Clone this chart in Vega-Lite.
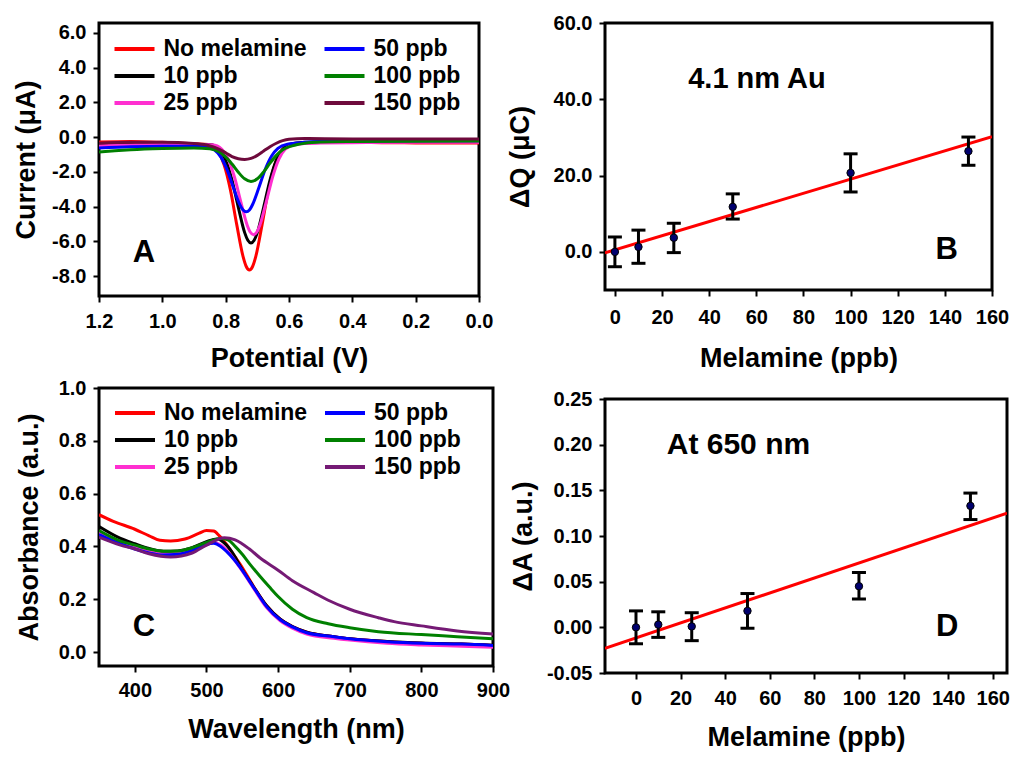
{
  "$schema": "https://vega.github.io/schema/vega-lite/v6.json",
  "background": "white",
  "padding": {"left": 10, "top": 11, "right": 0, "bottom": 0},
  "config": {
    "font": "Liberation Sans",
    "view": {"stroke": "black", "strokeWidth": 3},
    "axis": {"domain": false, "grid": false, "ticks": true, "tickColor": "black", "tickWidth": 2, "tickSize": 6, "tickCount": 20,
      "labelFont": "Liberation Sans", "labelFontSize": 20, "labelFontWeight": "bold", "labelColor": "black", "labelOverlap": false, "labelFlush": false,
      "titleFont": "Liberation Sans", "titleFontSize": 27, "titleFontWeight": "bold", "titleColor": "black"},
    "axisX": {"labelPadding": 8, "titlePadding": 14},
    "axisY": {"labelPadding": 7, "titlePadding": 12},
    "text": {"font": "Liberation Sans", "fontWeight": "bold", "color": "black"}
  },
  "spacing": -7,
  "resolve": {"scale": {"color": "independent"}, "legend": {"color": "independent"}},
  "hconcat": [
    {
      "spacing": 3,
      "resolve": {"scale": {"color": "independent"}, "legend": {"color": "independent"}},
      "vconcat": [
        {
          "width": 380,
          "height": 273,
          "layer": [
            {
              "data": {"values": [
{"series":"No melamine","potential":1.2,"current":-0.28},{"series":"No melamine","potential":1.1,"current":-0.25},{"series":"No melamine","potential":1.0,"current":-0.3},{"series":"No melamine","potential":0.9,"current":-0.38},{"series":"No melamine","potential":0.855,"current":-0.42},{"series":"No melamine","potential":0.825,"current":-0.81},{"series":"No melamine","potential":0.805,"current":-1.59},{"series":"No melamine","potential":0.785,"current":-3.04},{"series":"No melamine","potential":0.765,"current":-5.04},{"series":"No melamine","potential":0.745,"current":-6.88},{"series":"No melamine","potential":0.735,"current":-7.45},{"series":"No melamine","potential":0.725,"current":-7.65},{"series":"No melamine","potential":0.715,"current":-7.45},{"series":"No melamine","potential":0.705,"current":-6.88},{"series":"No melamine","potential":0.685,"current":-5.04},{"series":"No melamine","potential":0.665,"current":-3.04},{"series":"No melamine","potential":0.645,"current":-1.59},{"series":"No melamine","potential":0.625,"current":-0.81},{"series":"No melamine","potential":0.595,"current":-0.42},{"series":"No melamine","potential":0.55,"current":-0.32},{"series":"No melamine","potential":0.5,"current":-0.3},{"series":"No melamine","potential":0.4,"current":-0.3},{"series":"No melamine","potential":0.3,"current":-0.32},{"series":"No melamine","potential":0.2,"current":-0.33},{"series":"No melamine","potential":0.1,"current":-0.33},{"series":"No melamine","potential":0.0,"current":-0.33},
{"series":"10 ppb","potential":1.2,"current":-0.4},{"series":"10 ppb","potential":1.1,"current":-0.38},{"series":"10 ppb","potential":1.0,"current":-0.38},{"series":"10 ppb","potential":0.9,"current":-0.42},{"series":"10 ppb","potential":0.85,"current":-0.42},{"series":"10 ppb","potential":0.82,"current":-0.71},{"series":"10 ppb","potential":0.8,"current":-1.33},{"series":"10 ppb","potential":0.78,"current":-2.47},{"series":"10 ppb","potential":0.76,"current":-4.04},{"series":"10 ppb","potential":0.74,"current":-5.5},{"series":"10 ppb","potential":0.73,"current":-5.94},{"series":"10 ppb","potential":0.72,"current":-6.1},{"series":"10 ppb","potential":0.71,"current":-5.94},{"series":"10 ppb","potential":0.7,"current":-5.5},{"series":"10 ppb","potential":0.68,"current":-4.04},{"series":"10 ppb","potential":0.66,"current":-2.47},{"series":"10 ppb","potential":0.64,"current":-1.33},{"series":"10 ppb","potential":0.62,"current":-0.71},{"series":"10 ppb","potential":0.59,"current":-0.38},{"series":"10 ppb","potential":0.55,"current":-0.3},{"series":"10 ppb","potential":0.5,"current":-0.26},{"series":"10 ppb","potential":0.4,"current":-0.24},{"series":"10 ppb","potential":0.2,"current":-0.22},{"series":"10 ppb","potential":0.0,"current":-0.22},
{"series":"25 ppb","potential":1.2,"current":-0.5},{"series":"25 ppb","potential":1.1,"current":-0.45},{"series":"25 ppb","potential":1.0,"current":-0.42},{"series":"25 ppb","potential":0.9,"current":-0.42},{"series":"25 ppb","potential":0.842,"current":-0.44},{"series":"25 ppb","potential":0.812,"current":-0.7},{"series":"25 ppb","potential":0.792,"current":-1.26},{"series":"25 ppb","potential":0.772,"current":-2.31},{"series":"25 ppb","potential":0.752,"current":-3.74},{"series":"25 ppb","potential":0.732,"current":-5.07},{"series":"25 ppb","potential":0.722,"current":-5.48},{"series":"25 ppb","potential":0.712,"current":-5.62},{"series":"25 ppb","potential":0.702,"current":-5.48},{"series":"25 ppb","potential":0.692,"current":-5.07},{"series":"25 ppb","potential":0.672,"current":-3.74},{"series":"25 ppb","potential":0.652,"current":-2.31},{"series":"25 ppb","potential":0.632,"current":-1.26},{"series":"25 ppb","potential":0.612,"current":-0.7},{"series":"25 ppb","potential":0.582,"current":-0.42},{"series":"25 ppb","potential":0.55,"current":-0.36},{"series":"25 ppb","potential":0.5,"current":-0.34},{"series":"25 ppb","potential":0.4,"current":-0.32},{"series":"25 ppb","potential":0.2,"current":-0.3},{"series":"25 ppb","potential":0.0,"current":-0.3},
{"series":"50 ppb","potential":1.2,"current":-0.62},{"series":"50 ppb","potential":1.1,"current":-0.55},{"series":"50 ppb","potential":1.0,"current":-0.52},{"series":"50 ppb","potential":0.9,"current":-0.52},{"series":"50 ppb","potential":0.865,"current":-0.54},{"series":"50 ppb","potential":0.835,"current":-0.74},{"series":"50 ppb","potential":0.815,"current":-1.15},{"series":"50 ppb","potential":0.795,"current":-1.9},{"series":"50 ppb","potential":0.775,"current":-2.94},{"series":"50 ppb","potential":0.755,"current":-3.9},{"series":"50 ppb","potential":0.745,"current":-4.2},{"series":"50 ppb","potential":0.735,"current":-4.3},{"series":"50 ppb","potential":0.725,"current":-4.2},{"series":"50 ppb","potential":0.715,"current":-3.88},{"series":"50 ppb","potential":0.695,"current":-2.9},{"series":"50 ppb","potential":0.675,"current":-1.85},{"series":"50 ppb","potential":0.655,"current":-1.08},{"series":"50 ppb","potential":0.635,"current":-0.65},{"series":"50 ppb","potential":0.605,"current":-0.4},{"series":"50 ppb","potential":0.55,"current":-0.3},{"series":"50 ppb","potential":0.5,"current":-0.25},{"series":"50 ppb","potential":0.4,"current":-0.22},{"series":"50 ppb","potential":0.2,"current":-0.2},{"series":"50 ppb","potential":0.0,"current":-0.2},
{"series":"100 ppb","potential":1.2,"current":-0.85},{"series":"100 ppb","potential":1.15,"current":-0.78},{"series":"100 ppb","potential":1.1,"current":-0.72},{"series":"100 ppb","potential":1.0,"current":-0.65},{"series":"100 ppb","potential":0.9,"current":-0.62},{"series":"100 ppb","potential":0.85,"current":-0.67},{"series":"100 ppb","potential":0.82,"current":-0.86},{"series":"100 ppb","potential":0.8,"current":-1.14},{"series":"100 ppb","potential":0.78,"current":-1.55},{"series":"100 ppb","potential":0.76,"current":-2.02},{"series":"100 ppb","potential":0.74,"current":-2.4},{"series":"100 ppb","potential":0.72,"current":-2.55},{"series":"100 ppb","potential":0.7,"current":-2.4},{"series":"100 ppb","potential":0.68,"current":-2.0},{"series":"100 ppb","potential":0.66,"current":-1.5},{"series":"100 ppb","potential":0.64,"current":-1.05},{"series":"100 ppb","potential":0.62,"current":-0.72},{"series":"100 ppb","potential":0.59,"current":-0.5},{"series":"100 ppb","potential":0.55,"current":-0.35},{"series":"100 ppb","potential":0.5,"current":-0.28},{"series":"100 ppb","potential":0.4,"current":-0.25},{"series":"100 ppb","potential":0.2,"current":-0.23},{"series":"100 ppb","potential":0.0,"current":-0.22},
{"series":"150 ppb","potential":1.2,"current":-0.35},{"series":"150 ppb","potential":1.1,"current":-0.3},{"series":"150 ppb","potential":1.0,"current":-0.3},{"series":"150 ppb","potential":0.9,"current":-0.36},{"series":"150 ppb","potential":0.86,"current":-0.45},{"series":"150 ppb","potential":0.82,"current":-0.7},{"series":"150 ppb","potential":0.8,"current":-0.9},{"series":"150 ppb","potential":0.78,"current":-1.12},{"series":"150 ppb","potential":0.76,"current":-1.24},{"series":"150 ppb","potential":0.74,"current":-1.28},{"series":"150 ppb","potential":0.72,"current":-1.22},{"series":"150 ppb","potential":0.7,"current":-1.05},{"series":"150 ppb","potential":0.68,"current":-0.8},{"series":"150 ppb","potential":0.66,"current":-0.55},{"series":"150 ppb","potential":0.64,"current":-0.35},{"series":"150 ppb","potential":0.62,"current":-0.2},{"series":"150 ppb","potential":0.6,"current":-0.12},{"series":"150 ppb","potential":0.55,"current":-0.08},{"series":"150 ppb","potential":0.4,"current":-0.1},{"series":"150 ppb","potential":0.2,"current":-0.1},{"series":"150 ppb","potential":0.0,"current":-0.1}
              ]},
              "mark": {"type": "line", "strokeWidth": 3, "interpolate": "monotone", "clip": true},
              "encoding": {
                "x": {"field": "potential", "type": "quantitative", "title": "Potential (V)",
                  "scale": {"domain": [0, 1.2], "reverse": true, "nice": false, "zero": false},
                  "axis": {"values": [0, 0.2, 0.4, 0.6, 0.8, 1.0, 1.2], "format": ".1f", "tickCount": 20, "labelPadding": 9, "titlePadding": 14}},
                "y": {"field": "current", "type": "quantitative", "title": "Current (μA)",
                  "scale": {"domain": [-9.15, 6.576], "nice": false, "zero": false},
                  "axis": {"values": [-8, -6, -4, -2, 0, 2, 4, 6], "format": ".1f", "tickCount": 20, "labelOverlap": false, "labelExpr": "replace(datum.label, '\u2212', '-')", "labelPadding": 7, "titlePadding": 11.5}},
                "color": {"field": "series", "type": "nominal",
                  "scale": {"domain": ["No melamine", "10 ppb", "25 ppb", "50 ppb", "100 ppb", "150 ppb"],
                            "range": ["#FF0000", "#000000", "#FF2FD0", "#0000FF", "#008000", "#6E0A3C"]},
                  "legend": {"orient": "none", "legendX": 23.5, "legendY": 14, "columns": 2, "title": null, "padding": 0,
                    "labelFont": "Liberation Sans", "labelFontSize": 23, "labelFontWeight": "bold", "labelColor": "black", "labelLimit": 400,
                    "symbolType": "M-2,0H2", "symbolSize": 400, "symbolStrokeWidth": 4, "labelOffset": 17, "columnPadding": 9, "rowPadding": 3}}
              }
            },
            {
              "data": {"values": [{"note": "A"}]},
              "mark": {"type": "text", "fontSize": 31, "fontWeight": "bold", "align": "center", "baseline": "middle"},
              "encoding": {"text": {"field": "note"}, "x": {"datum": 1.058}, "y": {"datum": -6.66}}
            }
          ]
        },
        {
          "width": 394,
          "height": 278,
          "layer": [
            {
              "data": {"values": [
{"series":"No melamine","wavelength":350,"absorbance":0.52},{"series":"No melamine","wavelength":370,"absorbance":0.495},{"series":"No melamine","wavelength":400,"absorbance":0.465},{"series":"No melamine","wavelength":420,"absorbance":0.44},{"series":"No melamine","wavelength":435,"absorbance":0.423},{"series":"No melamine","wavelength":450,"absorbance":0.42},{"series":"No melamine","wavelength":470,"absorbance":0.428},{"series":"No melamine","wavelength":490,"absorbance":0.45},{"series":"No melamine","wavelength":500,"absorbance":0.46},{"series":"No melamine","wavelength":510,"absorbance":0.458},{"series":"No melamine","wavelength":518,"absorbance":0.44},{"series":"No melamine","wavelength":530,"absorbance":0.4},{"series":"No melamine","wavelength":540,"absorbance":0.36},{"series":"No melamine","wavelength":546,"absorbance":0.337},{"series":"No melamine","wavelength":565,"absorbance":0.252},{"series":"No melamine","wavelength":584,"absorbance":0.175},{"series":"No melamine","wavelength":603,"absorbance":0.124},{"series":"No melamine","wavelength":620,"absorbance":0.096},{"series":"No melamine","wavelength":640,"absorbance":0.075},{"series":"No melamine","wavelength":678,"absorbance":0.058},{"series":"No melamine","wavelength":700,"absorbance":0.05},{"series":"No melamine","wavelength":752,"absorbance":0.04},{"series":"No melamine","wavelength":800,"absorbance":0.033},{"series":"No melamine","wavelength":856,"absorbance":0.03},{"series":"No melamine","wavelength":900,"absorbance":0.025},
{"series":"10 ppb","wavelength":350,"absorbance":0.475},{"series":"10 ppb","wavelength":380,"absorbance":0.43},{"series":"10 ppb","wavelength":400,"absorbance":0.41},{"series":"10 ppb","wavelength":420,"absorbance":0.392},{"series":"10 ppb","wavelength":440,"absorbance":0.382},{"series":"10 ppb","wavelength":460,"absorbance":0.383},{"series":"10 ppb","wavelength":480,"absorbance":0.395},{"series":"10 ppb","wavelength":500,"absorbance":0.418},{"series":"10 ppb","wavelength":515,"absorbance":0.428},{"series":"10 ppb","wavelength":528,"absorbance":0.405},{"series":"10 ppb","wavelength":540,"absorbance":0.36},{"series":"10 ppb","wavelength":546,"absorbance":0.33},{"series":"10 ppb","wavelength":565,"absorbance":0.25},{"series":"10 ppb","wavelength":584,"absorbance":0.175},{"series":"10 ppb","wavelength":603,"absorbance":0.124},{"series":"10 ppb","wavelength":620,"absorbance":0.096},{"series":"10 ppb","wavelength":640,"absorbance":0.075},{"series":"10 ppb","wavelength":678,"absorbance":0.058},{"series":"10 ppb","wavelength":700,"absorbance":0.05},{"series":"10 ppb","wavelength":752,"absorbance":0.04},{"series":"10 ppb","wavelength":800,"absorbance":0.034},{"series":"10 ppb","wavelength":856,"absorbance":0.03},{"series":"10 ppb","wavelength":900,"absorbance":0.026},
{"series":"25 ppb","wavelength":350,"absorbance":0.455},{"series":"25 ppb","wavelength":380,"absorbance":0.415},{"series":"25 ppb","wavelength":400,"absorbance":0.395},{"series":"25 ppb","wavelength":420,"absorbance":0.38},{"series":"25 ppb","wavelength":440,"absorbance":0.37},{"series":"25 ppb","wavelength":460,"absorbance":0.372},{"series":"25 ppb","wavelength":480,"absorbance":0.385},{"series":"25 ppb","wavelength":500,"absorbance":0.405},{"series":"25 ppb","wavelength":510,"absorbance":0.415},{"series":"25 ppb","wavelength":520,"absorbance":0.405},{"series":"25 ppb","wavelength":530,"absorbance":0.38},{"series":"25 ppb","wavelength":546,"absorbance":0.322},{"series":"25 ppb","wavelength":565,"absorbance":0.245},{"series":"25 ppb","wavelength":584,"absorbance":0.168},{"series":"25 ppb","wavelength":603,"absorbance":0.118},{"series":"25 ppb","wavelength":620,"absorbance":0.09},{"series":"25 ppb","wavelength":640,"absorbance":0.068},{"series":"25 ppb","wavelength":678,"absorbance":0.052},{"series":"25 ppb","wavelength":700,"absorbance":0.045},{"series":"25 ppb","wavelength":752,"absorbance":0.033},{"series":"25 ppb","wavelength":800,"absorbance":0.027},{"series":"25 ppb","wavelength":856,"absorbance":0.022},{"series":"25 ppb","wavelength":900,"absorbance":0.018},
{"series":"50 ppb","wavelength":350,"absorbance":0.445},{"series":"50 ppb","wavelength":380,"absorbance":0.41},{"series":"50 ppb","wavelength":400,"absorbance":0.39},{"series":"50 ppb","wavelength":420,"absorbance":0.375},{"series":"50 ppb","wavelength":440,"absorbance":0.367},{"series":"50 ppb","wavelength":460,"absorbance":0.37},{"series":"50 ppb","wavelength":480,"absorbance":0.385},{"series":"50 ppb","wavelength":500,"absorbance":0.408},{"series":"50 ppb","wavelength":510,"absorbance":0.412},{"series":"50 ppb","wavelength":520,"absorbance":0.4},{"series":"50 ppb","wavelength":528,"absorbance":0.381},{"series":"50 ppb","wavelength":540,"absorbance":0.345},{"series":"50 ppb","wavelength":546,"absorbance":0.324},{"series":"50 ppb","wavelength":565,"absorbance":0.248},{"series":"50 ppb","wavelength":584,"absorbance":0.172},{"series":"50 ppb","wavelength":603,"absorbance":0.122},{"series":"50 ppb","wavelength":620,"absorbance":0.095},{"series":"50 ppb","wavelength":640,"absorbance":0.073},{"series":"50 ppb","wavelength":678,"absorbance":0.058},{"series":"50 ppb","wavelength":700,"absorbance":0.05},{"series":"50 ppb","wavelength":752,"absorbance":0.039},{"series":"50 ppb","wavelength":800,"absorbance":0.033},{"series":"50 ppb","wavelength":856,"absorbance":0.03},{"series":"50 ppb","wavelength":900,"absorbance":0.025},
{"series":"100 ppb","wavelength":350,"absorbance":0.46},{"series":"100 ppb","wavelength":380,"absorbance":0.42},{"series":"100 ppb","wavelength":400,"absorbance":0.405},{"series":"100 ppb","wavelength":420,"absorbance":0.39},{"series":"100 ppb","wavelength":440,"absorbance":0.382},{"series":"100 ppb","wavelength":460,"absorbance":0.383},{"series":"100 ppb","wavelength":480,"absorbance":0.395},{"series":"100 ppb","wavelength":500,"absorbance":0.415},{"series":"100 ppb","wavelength":520,"absorbance":0.43},{"series":"100 ppb","wavelength":530,"absorbance":0.425},{"series":"100 ppb","wavelength":540,"absorbance":0.4},{"series":"100 ppb","wavelength":550,"absorbance":0.37},{"series":"100 ppb","wavelength":560,"absorbance":0.335},{"series":"100 ppb","wavelength":575,"absorbance":0.286},{"series":"100 ppb","wavelength":590,"absorbance":0.24},{"series":"100 ppb","wavelength":600,"absorbance":0.21},{"series":"100 ppb","wavelength":620,"absorbance":0.162},{"series":"100 ppb","wavelength":640,"absorbance":0.13},{"series":"100 ppb","wavelength":670,"absorbance":0.107},{"series":"100 ppb","wavelength":700,"absorbance":0.092},{"series":"100 ppb","wavelength":740,"absorbance":0.077},{"series":"100 ppb","wavelength":800,"absorbance":0.066},{"series":"100 ppb","wavelength":850,"absorbance":0.058},{"series":"100 ppb","wavelength":900,"absorbance":0.05},
{"series":"150 ppb","wavelength":350,"absorbance":0.435},{"series":"150 ppb","wavelength":380,"absorbance":0.405},{"series":"150 ppb","wavelength":400,"absorbance":0.39},{"series":"150 ppb","wavelength":420,"absorbance":0.372},{"series":"150 ppb","wavelength":450,"absorbance":0.36},{"series":"150 ppb","wavelength":480,"absorbance":0.375},{"series":"150 ppb","wavelength":500,"absorbance":0.405},{"series":"150 ppb","wavelength":525,"absorbance":0.433},{"series":"150 ppb","wavelength":540,"absorbance":0.425},{"series":"150 ppb","wavelength":560,"absorbance":0.39},{"series":"150 ppb","wavelength":575,"absorbance":0.356},{"series":"150 ppb","wavelength":600,"absorbance":0.31},{"series":"150 ppb","wavelength":620,"absorbance":0.27},{"series":"150 ppb","wavelength":650,"absorbance":0.225},{"series":"150 ppb","wavelength":670,"absorbance":0.196},{"series":"150 ppb","wavelength":700,"absorbance":0.162},{"series":"150 ppb","wavelength":740,"absorbance":0.13},{"series":"150 ppb","wavelength":762,"absorbance":0.115},{"series":"150 ppb","wavelength":800,"absorbance":0.099},{"series":"150 ppb","wavelength":850,"absorbance":0.08},{"series":"150 ppb","wavelength":900,"absorbance":0.068}
              ]},
              "mark": {"type": "line", "strokeWidth": 3, "interpolate": "monotone", "clip": true},
              "encoding": {
                "x": {"field": "wavelength", "type": "quantitative", "title": "Wavelength (nm)",
                  "scale": {"domain": [350, 900], "nice": false, "zero": false},
                  "axis": {"values": [400, 500, 600, 700, 800, 900], "tickCount": 20, "labelPadding": 8, "titlePadding": 16}},
                "y": {"field": "absorbance", "type": "quantitative", "title": "Absorbance (a.u.)",
                  "scale": {"domain": [-0.053, 1.0], "nice": false, "zero": false},
                  "axis": {"values": [0, 0.2, 0.4, 0.6, 0.8, 1.0], "format": ".1f", "tickCount": 20, "labelPadding": 7, "titlePadding": 14.7}},
                "color": {"field": "series", "type": "nominal",
                  "scale": {"domain": ["No melamine", "10 ppb", "25 ppb", "50 ppb", "100 ppb", "150 ppb"],
                            "range": ["#FF0000", "#000000", "#FF2FD0", "#0000FF", "#008000", "#751A75"]},
                  "legend": {"orient": "none", "legendX": 24, "legendY": 13, "columns": 2, "title": null, "padding": 0,
                    "labelFont": "Liberation Sans", "labelFontSize": 23, "labelFontWeight": "bold", "labelColor": "black", "labelLimit": 400,
                    "symbolType": "M-2,0H2", "symbolSize": 400, "symbolStrokeWidth": 4, "labelOffset": 17, "columnPadding": 9, "rowPadding": 3}}
              }
            },
            {
              "data": {"values": [{"note": "C"}]},
              "mark": {"type": "text", "fontSize": 31, "fontWeight": "bold", "align": "center", "baseline": "middle"},
              "encoding": {"text": {"field": "note"}, "x": {"datum": 412.7}, "y": {"datum": 0.096}}
            }
          ]
        }
      ]
    },
    {
      "spacing": 14,
      "vconcat": [
        {
          "width": 387,
          "height": 267,
          "layer": [
            {
              "data": {"values": [{"conc": -4.2, "fit": -0.27}, {"conc": 160, "fit": 30.19}]},
              "mark": {"type": "line", "color": "#FF0000", "strokeWidth": 3, "clip": true},
              "encoding": {
                "x": {"field": "conc", "type": "quantitative", "title": "Melamine (ppb)",
                  "scale": {"domain": [-4.2, 160], "nice": false, "zero": false},
                  "axis": {"values": [0, 20, 40, 60, 80, 100, 120, 140, 160], "tickCount": 20, "labelPadding": 11, "titlePadding": 18}},
                "y": {"field": "fit", "type": "quantitative", "title": "ΔQ (μC)",
                  "scale": {"domain": [-10, 60], "nice": false, "zero": false},
                  "axis": {"values": [0, 20, 40, 60], "format": ".1f", "tickCount": 20, "labelPadding": 7, "titlePadding": 18.5}}
              }
            },
            {
              "data": {"values": [
                {"conc": 0, "dq": 0, "lo": -3.9, "hi": 3.9},
                {"conc": 10, "dq": 1.3, "lo": -3.0, "hi": 5.7},
                {"conc": 25, "dq": 3.7, "lo": -0.2, "hi": 7.5},
                {"conc": 50, "dq": 11.8, "lo": 8.6, "hi": 15.2},
                {"conc": 100, "dq": 20.7, "lo": 15.7, "hi": 25.7},
                {"conc": 150, "dq": 26.4, "lo": 22.7, "hi": 30.1}
              ]},
              "layer": [
                {
                  "mark": {"type": "errorbar", "ticks": true, "thickness": 3, "size": 14, "color": "black", "opacity": 1},
                  "encoding": {
                    "x": {"field": "conc", "type": "quantitative", "title": "Melamine (ppb)"},
                    "y": {"field": "lo", "type": "quantitative", "title": "ΔQ (μC)"},
                    "y2": {"field": "hi"}
                  }
                },
                {
                  "mark": {"type": "circle", "size": 55, "color": "#00006E", "stroke": "black", "strokeWidth": 1, "opacity": 1},
                  "encoding": {
                    "x": {"field": "conc", "type": "quantitative", "title": "Melamine (ppb)"},
                    "y": {"field": "dq", "type": "quantitative", "title": "ΔQ (μC)"}
                  }
                }
              ]
            },
            {
              "data": {"values": [{"note": "4.1 nm Au"}]},
              "mark": {"type": "text", "fontSize": 29, "fontWeight": "bold", "align": "left", "baseline": "middle"},
              "encoding": {"text": {"field": "note"}, "x": {"datum": 31.1}, "y": {"datum": 45.4}}
            },
            {
              "data": {"values": [{"note": "B"}]},
              "mark": {"type": "text", "fontSize": 31, "fontWeight": "bold", "align": "center", "baseline": "middle"},
              "encoding": {"text": {"field": "note"}, "x": {"datum": 140.8}, "y": {"datum": 0.5}}
            }
          ]
        },
        {
          "width": 402,
          "height": 274,
          "layer": [
            {
              "data": {"values": [{"conc": -13.9, "fit": -0.023}, {"conc": 166.4, "fit": 0.1249}]},
              "mark": {"type": "line", "color": "#FF0000", "strokeWidth": 3, "clip": true},
              "encoding": {
                "x": {"field": "conc", "type": "quantitative", "title": "Melamine (ppb)",
                  "scale": {"domain": [-13.9, 166.4], "nice": false, "zero": false},
                  "axis": {"values": [0, 20, 40, 60, 80, 100, 120, 140, 160], "tickCount": 20, "labelPadding": 9, "titlePadding": 16}},
                "y": {"field": "fit", "type": "quantitative", "title": "ΔA (a.u.)",
                  "scale": {"domain": [-0.05, 0.25], "nice": false, "zero": false},
                  "axis": {"values": [-0.05, 0, 0.05, 0.1, 0.15, 0.2, 0.25], "format": ".2f", "tickCount": 20, "labelExpr": "replace(datum.label, '\u2212', '-')", "labelPadding": 7, "titlePadding": 9}}
              }
            },
            {
              "data": {"values": [
                {"conc": 0, "da": 0, "lo": -0.018, "hi": 0.018},
                {"conc": 10, "da": 0.003, "lo": -0.011, "hi": 0.017},
                {"conc": 25, "da": 0.001, "lo": -0.0146, "hi": 0.016},
                {"conc": 50, "da": 0.018, "lo": -0.001, "hi": 0.037},
                {"conc": 100, "da": 0.045, "lo": 0.031, "hi": 0.06},
                {"conc": 150, "da": 0.133, "lo": 0.118, "hi": 0.147}
              ]},
              "layer": [
                {
                  "mark": {"type": "errorbar", "ticks": true, "thickness": 3, "size": 14, "color": "black", "opacity": 1},
                  "encoding": {
                    "x": {"field": "conc", "type": "quantitative", "title": "Melamine (ppb)"},
                    "y": {"field": "lo", "type": "quantitative", "title": "ΔA (a.u.)"},
                    "y2": {"field": "hi"}
                  }
                },
                {
                  "mark": {"type": "circle", "size": 55, "color": "#00006E", "stroke": "black", "strokeWidth": 1, "opacity": 1},
                  "encoding": {
                    "x": {"field": "conc", "type": "quantitative", "title": "Melamine (ppb)"},
                    "y": {"field": "da", "type": "quantitative", "title": "ΔA (a.u.)"}
                  }
                }
              ]
            },
            {
              "data": {"values": [{"note": "At 650 nm"}]},
              "mark": {"type": "text", "fontSize": 30, "fontWeight": "bold", "align": "left", "baseline": "middle"},
              "encoding": {"text": {"field": "note"}, "x": {"datum": 13.8}, "y": {"datum": 0.2}}
            },
            {
              "data": {"values": [{"note": "D"}]},
              "mark": {"type": "text", "fontSize": 31, "fontWeight": "bold", "align": "center", "baseline": "middle"},
              "encoding": {"text": {"field": "note"}, "x": {"datum": 139.6}, "y": {"datum": 0.0}}
            }
          ]
        }
      ]
    }
  ]
}
